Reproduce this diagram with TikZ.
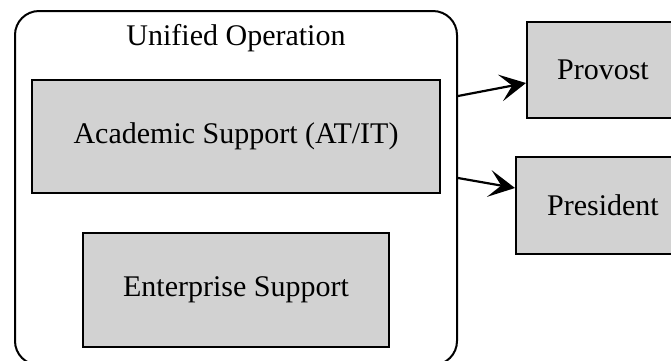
\documentclass[tikz,border=0pt]{standalone}
\usepackage{fontspec}
\setmainfont{Liberation Serif}
\usepackage{tikz}
\usetikzlibrary{arrows.meta}
\usepackage{xcolor}

\begin{document}
\begin{tikzpicture}[x=0.5pt, y=-0.5pt,
        unitbox/.style={draw=black, fill=gray!35, line width=1pt, inner sep=0pt},
        arr/.style={-{Stealth[length=13pt, width=13.5pt, inset=6pt]}, line width=1.1pt},
        font=\fontsize{15}{18}\selectfont]
        \useasboundingbox (0,0) rectangle (671,360);
        \clip (0,0) rectangle (671,360);

        % outer frame
        \node[draw=black, line width=1pt, rounded corners=12pt, minimum width=221pt, minimum height=177pt] (unified) at (236,188) {};
        \node (title) at (236,38) {Unified Operation};

        \node[unitbox, minimum width=204pt, minimum height=56.5pt] (academic) at (236,136.5) {Academic Support (AT/IT)};
        \node[unitbox, minimum width=153pt, minimum height=57pt] (enterprise) at (236,290) {Enterprise Support};

        \node[unitbox, minimum width=76pt, minimum height=48pt] (provost) at (603,70) {Provost};
        \node[unitbox, minimum width=87pt, minimum height=48.5pt] (president) at (603,205.5) {President};

        % reporting lines
        \draw[arr] ([yshift=46pt]unified.east) -- ([yshift=-6.5pt]provost.west);
        \draw[arr] ([yshift=5pt]unified.east) -- ([yshift=8.75pt]president.west);
    \end{tikzpicture}
\end{document}
